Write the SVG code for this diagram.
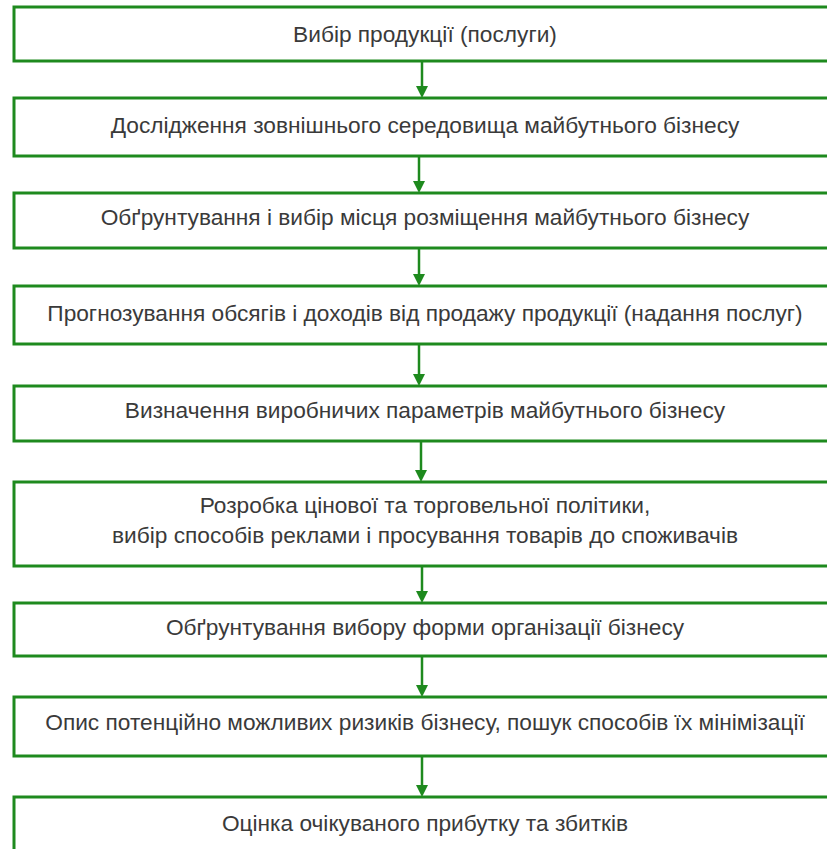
<svg xmlns="http://www.w3.org/2000/svg" width="827" height="849" viewBox="0 0 827 849">
<style>
.box{fill:#fff;stroke:#1e8a1e;stroke-width:3}
.t{font-family:"Liberation Sans",Arial,sans-serif;font-size:22.7px;fill:#3a3a3a;text-anchor:middle;dominant-baseline:central}
.c{stroke:#1e8a1e;stroke-width:2.5;fill:none}
.h{fill:#1e8a1e}
</style>
<rect width="827" height="849" fill="#fff"/>
<g id="connectors">
<line class="c" x1="422" y1="61" x2="422" y2="88"/><polygon class="h" points="416,86 428,86 422,98"/>
<line class="c" x1="419" y1="156" x2="419" y2="183"/><polygon class="h" points="413,181 425,181 419,193"/>
<line class="c" x1="419" y1="248" x2="419" y2="276"/><polygon class="h" points="413,274 425,274 419,286"/>
<line class="c" x1="419" y1="344" x2="419" y2="376"/><polygon class="h" points="413,374 425,374 419,386"/>
<line class="c" x1="421" y1="441" x2="421" y2="472"/><polygon class="h" points="415,470 427,470 421,482"/>
<line class="c" x1="422" y1="566" x2="422" y2="593"/><polygon class="h" points="416,591 428,591 422,603"/>
<line class="c" x1="422" y1="656" x2="422" y2="687"/><polygon class="h" points="416,685 428,685 422,697"/>
<line class="c" x1="422" y1="756" x2="422" y2="787"/><polygon class="h" points="416,785 428,785 422,797"/>
</g>
<g id="n1"><rect class="box" x="14" y="7" width="830" height="54"/><text class="t" x="425" y="34">Вибір продукції (послуги)</text></g>
<g id="n2"><rect class="box" x="14" y="98" width="830" height="58"/><text class="t" x="425" y="125">Дослідження зовнішнього середовища майбутнього бізнесу</text></g>
<g id="n3"><rect class="box" x="14" y="193" width="830" height="55"/><text class="t" x="425" y="217">Обґрунтування і вибір місця розміщення майбутнього бізнесу</text></g>
<g id="n4"><rect class="box" x="14" y="286" width="830" height="58"/><text class="t" x="425" y="313">Прогнозування обсягів і доходів від продажу продукції (надання послуг)</text></g>
<g id="n5"><rect class="box" x="14" y="386" width="830" height="55"/><text class="t" x="425" y="410">Визначення виробничих параметрів майбутнього бізнесу</text></g>
<g id="n6"><rect class="box" x="14" y="482" width="830" height="84"/><text class="t" x="425" y="505">Розробка цінової та торговельної політики,</text><text class="t" x="425" y="535">вибір способів реклами і просування товарів до споживачів</text></g>
<g id="n7"><rect class="box" x="14" y="603" width="830" height="53"/><text class="t" x="425" y="627">Обґрунтування вибору форми організації бізнесу</text></g>
<g id="n8"><rect class="box" x="14" y="697" width="830" height="59"/><text class="t" x="425" y="722">Опис потенційно можливих ризиків бізнесу, пошук способів їх мінімізації</text></g>
<g id="n9"><rect class="box" x="14" y="797" width="830" height="80"/><text class="t" x="425" y="823">Оцінка очікуваного прибутку та збитків</text></g>
</svg>
